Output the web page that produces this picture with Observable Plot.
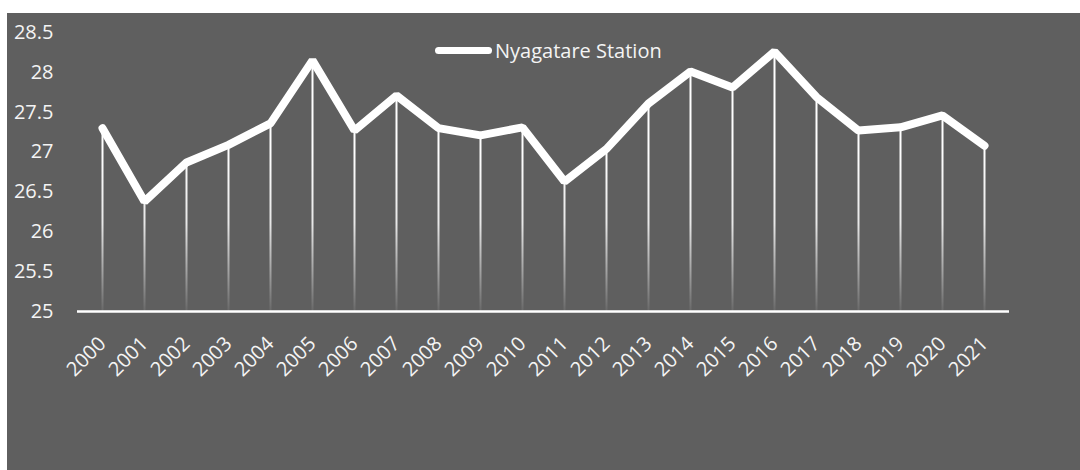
<!DOCTYPE html>
<html>
<head>
<meta charset="utf-8">
<script src="https://cdn.jsdelivr.net/npm/d3@7"></script>
<script src="https://cdn.jsdelivr.net/npm/@observablehq/plot@0.6"></script>
<style>
  html, body { margin: 0; padding: 0; background: #ffffff; }
  #wrap { position: absolute; left: 7px; top: 13px; width: 1073px; height: 457px; background: #5f5f5f; }
  #legend { position: absolute; left: 428px; top: 24px; display: flex; align-items: center;
            font-family: "Open Sans", sans-serif; font-size: 20px; color: #f4f4f4; }
  #legend .sw { width: 57px; height: 7px; border-radius: 4px; background: #ffffff; margin-right: 3px; }
</style>
</head>
<body>
<div id="wrap"><div id="chart"></div><div id="legend"><span class="sw"></span><span>Nyagatare Station</span></div></div>
<script>
const years = ["2000","2001","2002","2003","2004","2005","2006","2007","2008","2009","2010","2011","2012","2013","2014","2015","2016","2017","2018","2019","2020","2021"];
const temps = [27.30,26.38,26.87,27.09,27.36,28.15,27.27,27.71,27.30,27.21,27.31,26.63,27.04,27.61,28.01,27.81,28.26,27.69,27.27,27.31,27.46,27.08];
const yTicks = [25,25.5,26,26.5,27,27.5,28,28.5];
const seriesName = "Nyagatare Station";

const data = years.map((y, i) => ({year: y, value: temps[i]}));

const chart = Plot.plot({
  width: 1073,
  height: 457,
  marginLeft: 70,
  marginRight: 71,
  marginTop: 19,
  marginBottom: 159,
  style: {background: "#5f5f5f", color: "#f4f4f4", fontFamily: "'Open Sans', sans-serif", fontSize: "20px"},
  x: {type: "band", domain: years, padding: 0, label: null, tickSize: 0, tickPadding: 29, tickRotate: -45},
  y: {domain: [25, 28.5], ticks: yTicks, tickFormat: d => String(d), label: null, tickSize: 0, tickPadding: 24},
  marks: [
    Plot.ruleX(data, {x: "year", y1: 25, y2: "value", stroke: "url(#dropGrad)", strokeWidth: 2}),
    Plot.ruleY([25], {stroke: "#ffffff", strokeWidth: 2.5}),
    Plot.line(data, {x: "year", y: "value", stroke: "#ffffff", strokeWidth: 8, strokeLinejoin: "miter", strokeLinecap: "round"})
  ]
});

const ns = "http://www.w3.org/2000/svg";
const defs = document.createElementNS(ns, "defs");
defs.innerHTML = '<linearGradient id="dropGrad" gradientUnits="userSpaceOnUse" x1="0" y1="140" x2="0" y2="296">' +
  '<stop offset="0" stop-color="#ffffff" stop-opacity="1"/>' +
  '<stop offset="0.45" stop-color="#ffffff" stop-opacity="0.85"/>' +
  '<stop offset="1" stop-color="#ffffff" stop-opacity="0.08"/></linearGradient>';
chart.insertBefore(defs, chart.firstChild);
document.getElementById("chart").appendChild(chart);
</script>
</body>
</html>
